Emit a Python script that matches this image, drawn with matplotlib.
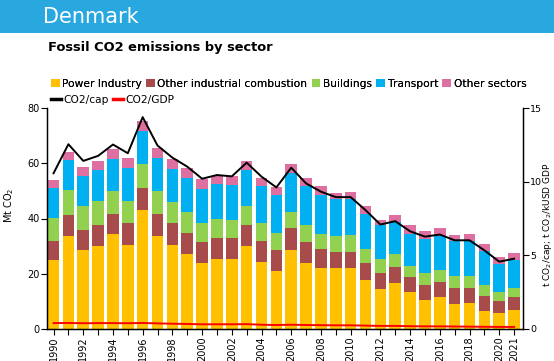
import matplotlib
matplotlib.use("Agg")
import matplotlib.pyplot as plt
from matplotlib.patches import Patch, Rectangle
from matplotlib.lines import Line2D
import numpy as np

years = list(range(1990, 2022))
power = [25.1, 33.8, 28.7, 30.2, 34.5, 30.5, 43.0, 33.8, 30.5, 27.3, 24.0, 25.5,
         25.5, 30.2, 24.4, 21.1, 28.7, 24.0, 22.2, 22.2, 22.2, 17.8, 14.5, 16.7,
         13.5, 10.5, 11.6, 9.1, 9.5, 6.5, 5.8, 6.9]
industry = [6.9, 7.3, 7.3, 7.3, 7.3, 8.0, 7.9, 8.0, 7.7, 7.6, 7.6, 7.6,
            7.6, 7.6, 7.6, 7.6, 7.7, 7.6, 6.9, 5.8, 5.8, 6.2, 5.9, 5.8,
            5.4, 5.5, 5.5, 5.8, 5.4, 5.5, 4.4, 4.7]
buildings = [8.2, 9.1, 8.4, 9.0, 8.0, 8.0, 8.7, 8.0, 7.6, 7.6, 6.9, 6.9,
             6.5, 6.9, 6.5, 6.2, 6.1, 5.9, 5.4, 5.5, 6.2, 5.1, 5.1, 4.8,
             4.0, 4.4, 4.4, 4.4, 4.4, 4.0, 3.3, 3.3]
transport = [10.7, 10.9, 10.9, 11.1, 11.7, 11.8, 12.2, 12.0, 12.0, 12.0, 12.2, 12.4,
             12.4, 12.8, 13.1, 13.5, 14.1, 14.1, 13.9, 13.4, 13.0, 12.7, 12.0, 11.6,
             11.6, 12.3, 12.3, 12.7, 12.7, 12.4, 10.1, 10.2]
other = [3.0, 3.1, 3.2, 3.1, 3.7, 3.5, 3.6, 3.7, 3.7, 3.7, 3.6, 2.9,
         3.3, 3.2, 2.9, 3.1, 3.0, 2.9, 3.4, 2.2, 2.3, 2.6, 1.8, 2.2,
         3.0, 2.6, 2.6, 2.2, 2.5, 2.5, 2.6, 2.5]
co2_cap = [10.57, 12.54, 11.41, 11.75, 12.52, 11.93, 14.38, 12.45, 11.63, 11.02, 10.20, 10.45,
           10.36, 11.29, 10.34, 9.61, 10.95, 9.88, 9.32, 8.95, 8.95, 8.07, 7.09, 7.32,
           6.63, 6.27, 6.41, 6.02, 6.02, 5.34, 4.57, 4.77]
co2_gdp = [0.40, 0.41, 0.39, 0.40, 0.40, 0.39, 0.41, 0.38, 0.36, 0.34, 0.32, 0.32,
           0.32, 0.33, 0.29, 0.27, 0.29, 0.27, 0.26, 0.25, 0.25, 0.23, 0.21, 0.21,
           0.19, 0.18, 0.18, 0.17, 0.16, 0.15, 0.14, 0.14]

sectors = ["Power Industry", "Other industrial combustion", "Buildings", "Transport", "Other sectors"]
colors = ["#FFC000", "#A84B4B", "#92D050", "#00B0F0", "#DE6FA1"]
series = [power, industry, buildings, transport, other]

plt.rcParams['font.family'] = ['DejaVu Sans']

fig = plt.figure(figsize=(5.54, 3.61), dpi=100)
# header band
fig.patches.append(Rectangle((0, 1 - 33 / 361), 1, 33 / 361, transform=fig.transFigure,
                             facecolor="#29A8E0", edgecolor="none", zorder=0))
fig.text(43 / 554, 1 - 17 / 361, "Denmark", color="white", fontsize=15, va="center", ha="left")
fig.text(48 / 554, 1 - 48 / 361, "Fossil CO2 emissions by sector", color="black",
         fontsize=9.4, fontweight="bold", va="center", ha="left")

ax = fig.add_axes([47 / 554, 1 - 329 / 361, 476 / 554, 221 / 361])
x = np.arange(len(years))
bottom = np.zeros(len(years))
for vals, c in zip(series, colors):
    ax.bar(x, vals, width=0.78, bottom=bottom, color=c, edgecolor="none", zorder=2)
    bottom += np.array(vals)

ax.set_ylim(0, 80)
ax.set_xlim(-0.44, 31.6)
ax.set_yticks([0, 20, 40, 60, 80])
ax.set_xticks(x)
ax.set_xticklabels([str(y) if (y % 2 == 0 or y == 2021) else "" for y in years], rotation=90)
ax.tick_params(axis="both", labelsize=7, length=4, pad=1.5, width=0.8)
ax.spines["top"].set_visible(False)
for s in ["left", "bottom", "right"]:
    ax.spines[s].set_linewidth(1.0)
ax.set_ylabel("Mt CO$_2$", fontsize=7)
ax.yaxis.set_label_coords(-0.066, 0.56)

ax2 = ax.twinx()
ax2.set_ylim(0, 15)
ax2.set_yticks([0, 5, 10, 15])
ax2.plot(x, co2_cap, color="black", lw=1.4, zorder=5)
ax2.plot(x, co2_gdp, color="#FF0000", lw=1.4, zorder=5)
ax2.tick_params(axis="y", labelsize=6.8, length=4, pad=1, width=0.8)
ax2.spines["top"].set_visible(False)
ax2.set_ylabel("t CO$_2$/cap; t CO$_2$/kUSD GDP", fontsize=6.5)
ax2.yaxis.set_label_coords(1.038, 0.47)

h1 = [Patch(facecolor=c, edgecolor="none") for c in colors]
leg1 = fig.legend(h1, sectors, loc="upper left", bbox_to_anchor=(51 / 554, 1 - 79 / 361),
                  ncol=5, frameon=False, fontsize=7.7, handlelength=0.8, handleheight=0.8,
                  handletextpad=0.25, columnspacing=0.4, borderpad=0, borderaxespad=0)
h2 = [Line2D([0], [0], color="black", lw=2.5), Line2D([0], [0], color="#FF0000", lw=2.5)]
leg2 = fig.legend(h2, ["CO2/cap", "CO2/GDP"], loc="upper left", bbox_to_anchor=(51 / 554, 1 - 95 / 361),
                  ncol=2, frameon=False, fontsize=7.7, handlelength=0.9,
                  handletextpad=0.25, columnspacing=0.4, borderpad=0, borderaxespad=0)
fig.add_artist(leg1)

fig.savefig("out.png", dpi=100)
